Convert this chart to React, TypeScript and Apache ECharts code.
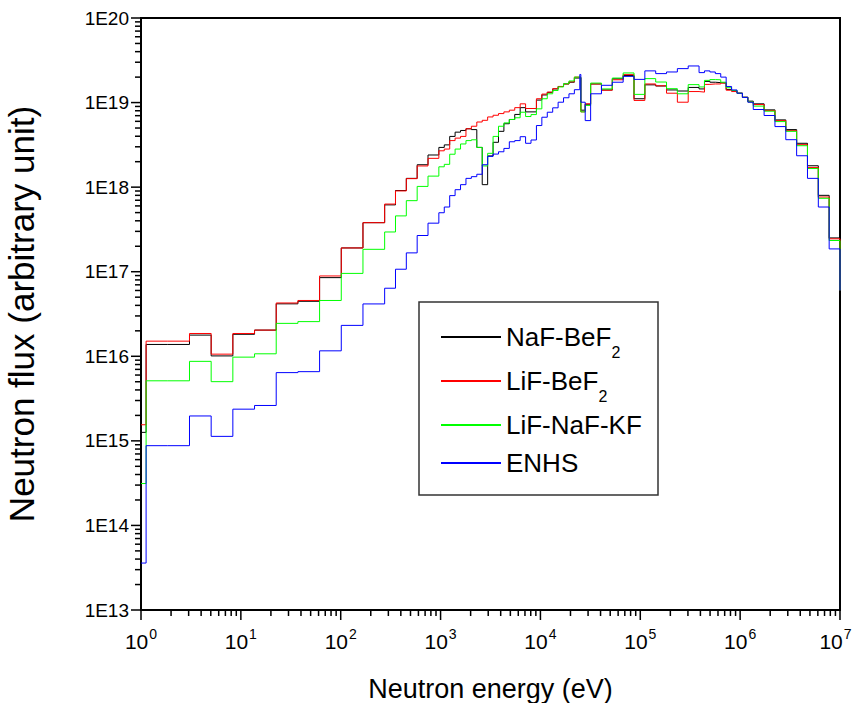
import React, { useEffect, useRef } from "react";
import * as echarts from "echarts";

// Energy group boundaries (eV), ascending
const EDGES_EV = [
  1, 1.125, 1.855, 3.059, 5.043, 8.315, 13.71, 22.6, 37.27, 61.44, 101.3, 167.0,
  275.4, 353.6, 454.0, 583.0, 748.5, 961.1, 1089, 1234, 1398, 1585, 1796, 2035,
  2306, 2613, 2961, 3355, 3802, 4307, 4881, 5531, 6267, 7102, 8047, 9119, 10333,
  11709, 13268, 15034, 17036, 19305, 21875, 24788, 25400, 28088, 31828, 40868,
  52475, 67379, 86517, 111090, 142642, 183156, 235177, 301974, 387742, 439369,
  497871, 564161, 639279, 724398, 820850, 930144, 1053992, 1194329, 1353353,
  1737739, 2231302, 2865048, 3678794, 4723666, 6065307, 7788008, 1e7,
];

// Group flux values (arbitrary unit), one per group
const NAF_BEF2 = [
  1.26e15, 1.38e16, 1.38e16, 1.78e16, 1.01e16, 1.82e16, 2.04e16, 4.17e16, 4.47e16,
  8.51e16, 1.91e17, 3.8e17, 6.17e17, 9.12e17, 1.27e18, 1.84e18, 2.4e18, 2.95e18,
  3.16e18, 3.98e18, 4.47e18, 4.68e18, 4.9e18, 4.79e18, 2.95e18, 1.07e18, 2.34e18,
  3.39e18, 4.57e18, 5.62e18, 6.31e18, 7.24e18, 8.71e18, 7.76e18, 7.76e18, 1.07e19,
  1.23e19, 1.32e19, 1.45e19, 1.55e19, 1.66e19, 1.74e19, 1.95e19, 1.95e19, 8.13e18,
  9.55e18, 1.66e19, 1.41e19, 1.91e19, 2.09e19, 1.11e19, 1.62e19, 1.57e19, 1.41e19,
  1.37e19, 1.51e19, 1.45e19, 1.78e19, 1.74e19, 1.72e19, 1.7e19, 1.43e19, 1.38e19,
  1.29e19, 1.16e19, 1.04e19, 9.66e18, 8.2e18, 6.24e18, 4.79e18, 3.3e18, 1.79e18,
  8.0e17, 2.51e17,
];
const LIF_BEF2 = [
  1.55e15, 1.51e16, 1.51e16, 1.86e16, 1.06e16, 1.86e16, 2.04e16, 4.27e16, 4.57e16,
  8.91e16, 1.91e17, 3.8e17, 6.31e17, 9.02e17, 1.26e18, 1.78e18, 2.19e18, 2.69e18,
  2.82e18, 3.55e18, 3.8e18, 3.98e18, 4.9e18, 5.25e18, 5.89e18, 6.17e18, 6.76e18,
  7.08e18, 7.41e18, 7.76e18, 8.13e18, 8.71e18, 9.66e18, 8.51e18, 8.51e18, 1.11e19,
  1.26e19, 1.33e19, 1.46e19, 1.55e19, 1.66e19, 1.76e19, 2.0e19, 2.0e19, 7.76e18,
  9.66e18, 1.66e19, 1.4e19, 1.86e19, 2.14e19, 1.06e19, 1.66e19, 1.58e19, 1.29e19,
  1.01e19, 1.35e19, 1.33e19, 1.64e19, 1.66e19, 1.66e19, 1.7e19, 1.4e19, 1.35e19,
  1.29e19, 1.15e19, 1.02e19, 9.48e18, 8.05e18, 6.12e18, 4.66e18, 3.18e18, 1.71e18,
  7.64e17, 2.45e17,
];
const LIF_NAF_KF = [
  3.13e14, 5.13e15, 5.13e15, 8.71e15, 5.01e15, 9.77e15, 1.07e16, 2.45e16, 2.57e16,
  4.57e16, 9.55e16, 1.84e17, 2.95e17, 4.57e17, 6.92e17, 1.02e18, 1.35e18, 1.74e18,
  1.86e18, 2.45e18, 2.82e18, 3.24e18, 3.55e18, 3.63e18, 2.95e18, 1.78e18, 2.51e18,
  3.98e18, 5.25e18, 5.75e18, 6.31e18, 6.61e18, 7.69e18, 6.84e18, 7.21e18, 8.43e18,
  1.11e19, 1.27e19, 1.39e19, 1.53e19, 1.67e19, 1.8e19, 2.0e19, 2.0e19, 7.76e18,
  9.25e18, 1.7e19, 1.45e19, 1.95e19, 2.24e19, 1.25e19, 1.92e19, 1.75e19, 1.46e19,
  1.27e19, 1.63e19, 1.53e19, 1.83e19, 1.87e19, 1.86e19, 1.74e19, 1.5e19, 1.39e19,
  1.29e19, 1.15e19, 1.02e19, 9.08e18, 7.91e18, 5.96e18, 4.57e18, 3.09e18, 1.66e18,
  7.38e17, 2.34e17,
];
const ENHS = [
  3.59e13, 8.77e14, 8.77e14, 1.97e15, 1.13e15, 2.37e15, 2.62e15, 6.41e15, 6.58e15,
  1.16e16, 2.32e16, 4.16e16, 6.38e16, 1.07e17, 1.67e17, 2.68e17, 3.75e17, 4.98e17,
  5.82e17, 7.94e17, 9.33e17, 1.07e18, 1.27e18, 1.33e18, 1.42e18, 1.84e18, 2.31e18,
  2.46e18, 2.62e18, 2.87e18, 3.44e18, 3.55e18, 3.95e18, 3.3e18, 3.61e18, 5.35e18,
  6.71e18, 7.69e18, 8.67e18, 1.01e19, 1.14e19, 1.27e19, 1.42e19, 2.15e19, 1.01e19,
  6.12e18, 1.27e19, 1.6e19, 1.74e19, 2.04e19, 1.88e19, 2.37e19, 2.2e19, 2.3e19,
  2.52e19, 2.71e19, 2.26e19, 2.37e19, 2.3e19, 2.2e19, 2.0e19, 1.55e19, 1.41e19,
  1.29e19, 1.15e19, 1.01e19, 8.28e18, 7.03e18, 5.2e18, 3.64e18, 2.35e18, 1.27e18,
  5.82e17, 1.86e17,
];
// value each curve falls to at the 10 MeV upper edge
const END_FLUX = [6e16, 6e16, 6e16, 6e16];

const SERIES_NAMES = ["NaF-BeF2", "LiF-BeF2", "LiF-NaF-KF", "ENHS"];
const SERIES_VALUES = [NAF_BEF2, LIF_BEF2, LIF_NAF_KF, ENHS];
const SERIES_COLORS = ["#000000", "#ff0000", "#00ff00", "#0000ff"];

const X_MIN = 1;
const X_MAX = 1e7;
const Y_MIN = 1e13;
const Y_MAX = 1e20;
const X_TITLE = "Neutron energy (eV)";
const Y_TITLE = "Neutron flux (arbitrary unit)";
const FONT = "'Liberation Sans', Arial, sans-serif";

// legend layout (pixels)
const LEGEND_BOX = { x: 419, y: 302, w: 239, h: 193 };
const LEGEND_ROW_CENTERS = [334, 378, 422, 460];

function stepPoints(vals: number[], endVal: number) {
  const pts: number[][] = vals.map((v, i) => [EDGES_EV[i], v]);
  const last = EDGES_EV[EDGES_EV.length - 1];
  pts.push([last, vals[vals.length - 1]]);
  pts.push([last, endVal]);
  return pts;
}

function decadeTicks(lo: number, hi: number) {
  const major: number[] = [];
  const minor: number[] = [];
  for (let e = lo; e <= hi; e++) {
    major.push(Math.pow(10, e));
    if (e < hi) for (let k = 2; k <= 9; k++) minor.push(k * Math.pow(10, e));
  }
  return { major, minor };
}

export default function App() {
  const ref = useRef<HTMLDivElement>(null);
  useEffect(() => {
    if (!ref.current) return;
    const chart = echarts.init(ref.current, undefined, { renderer: "svg" });

    const lineSeries = SERIES_NAMES.map((name, i) => ({
      name,
      type: "line",
      step: "end",
      data: stepPoints(SERIES_VALUES[i], END_FLUX[i]),
      showSymbol: false,
      symbol: "none",
      lineStyle: { color: SERIES_COLORS[i], width: 1 },
      itemStyle: { color: SERIES_COLORS[i] },
      z: 3,
    }));

    const legendRich = {
      t: { fontFamily: FONT, fontSize: 26, lineHeight: 40, color: "#000" },
      s: { fontFamily: FONT, fontSize: 16, lineHeight: 10, padding: [30, 0, 0, 0], color: "#000" },
    };
    const legends = SERIES_NAMES.map((name, i) => ({
      data: [name],
      orient: "vertical",
      left: LEGEND_BOX.x + 21,
      top: LEGEND_ROW_CENTERS[i] - 20,
      padding: 0,
      itemWidth: 60,
      itemHeight: 2,
      itemGap: 0,
      selectedMode: false,
      itemStyle: { opacity: 0, borderWidth: 0 },
      formatter: (n: string) =>
        n.endsWith("F2") ? `{t|${n.slice(0, -1)}}{s|2}` : `{t|${n}}{s| }`,
      textStyle: { fontFamily: FONT, fontSize: 26, color: "#000", rich: legendRich },
    }));

    const supStyle = {
      fontFamily: FONT,
      fontSize: 14,
      lineHeight: 14,
      padding: [0, 0, 15, 1],
      color: "#000",
    };

    const option: any = {
      animation: false,
      backgroundColor: "#ffffff",
      grid: {
        left: 141,
        top: 18,
        width: 699,
        height: 592,
        show: true,
        borderColor: "#000",
        borderWidth: 2,
        backgroundColor: "transparent",
        containLabel: false,
        outerBoundsMode: "none",
      },
      legend: legends,
      xAxis: {
        type: "log",
        logBase: 10,
        min: X_MIN,
        max: X_MAX,
        name: X_TITLE,
        nameLocation: "middle",
        nameGap: 65,
        nameTextStyle: { fontFamily: FONT, fontSize: 27, color: "#000" },
        axisLine: { show: true, lineStyle: { color: "#000", width: 2 } },
        axisTick: { show: false },
        splitLine: { show: false },
        axisLabel: {
          margin: 21,
          showMinLabel: true,
          showMaxLabel: true,
          formatter: (v: number) => {
            const e = Math.round(Math.log10(v));
            return v >= X_MAX ? `{b|10}{e|${e}}` : `{b|10}{s|${e}}`;
          },
          rich: {
            b: { fontFamily: FONT, fontSize: 21, lineHeight: 21, color: "#000" },
            s: supStyle,
            e: { ...supStyle, padding: [0, 9, 15, 1] },
          },
        },
      },
      yAxis: {
        type: "log",
        logBase: 10,
        min: Y_MIN,
        max: Y_MAX,
        name: Y_TITLE,
        nameLocation: "middle",
        nameGap: 102,
        nameTextStyle: { fontFamily: FONT, fontSize: 35, color: "#000" },
        axisLine: { show: true, lineStyle: { color: "#000", width: 2 } },
        axisTick: { show: false },
        splitLine: { show: false },
        axisLabel: {
          margin: 12,
          showMinLabel: true,
          showMaxLabel: true,
          fontFamily: FONT,
          fontSize: 19,
          color: "#000",
          formatter: (v: number) => `1E${Math.round(Math.log10(v))}`,
        },
      },
      series: lineSeries,
    };

    chart.setOption(option);

    // Axis ticks (major + logarithmic minor), placed through the chart's own scales
    const xt = decadeTicks(0, 7);
    const yt = decadeTicks(13, 20);
    const tickStyle = { stroke: "#000", lineWidth: 1.5 };
    const graphics: any[] = [
      {
        type: "rect",
        silent: true,
        z: 2,
        shape: { x: LEGEND_BOX.x, y: LEGEND_BOX.y, width: LEGEND_BOX.w, height: LEGEND_BOX.h },
        style: { fill: "#fff", stroke: "#333", lineWidth: 1.5 },
      },
    ];
    const addX = (v: number, len: number) => {
      const p = chart.convertToPixel({ gridIndex: 0 }, [v, Y_MIN]) as number[];
      graphics.push({
        type: "line",
        silent: true,
        z: 10,
        shape: { x1: p[0], y1: p[1], x2: p[0], y2: p[1] + len },
        style: tickStyle,
      });
    };
    const addY = (v: number, len: number) => {
      const p = chart.convertToPixel({ gridIndex: 0 }, [X_MIN, v]) as number[];
      graphics.push({
        type: "line",
        silent: true,
        z: 10,
        shape: { x1: p[0] - len, y1: p[1], x2: p[0], y2: p[1] },
        style: tickStyle,
      });
    };
    xt.major.forEach((v) => addX(v, 10));
    xt.minor.forEach((v) => addX(v, 6));
    yt.major.forEach((v) => addY(v, 10));
    yt.minor.forEach((v) => addY(v, 6));
    chart.setOption({ graphic: graphics });

    return () => chart.dispose();
  }, []);

  return (
    <div
      ref={ref}
      style={{ position: "fixed", left: 0, top: 0, width: 854, height: 703, background: "#fff" }}
    />
  );
}
